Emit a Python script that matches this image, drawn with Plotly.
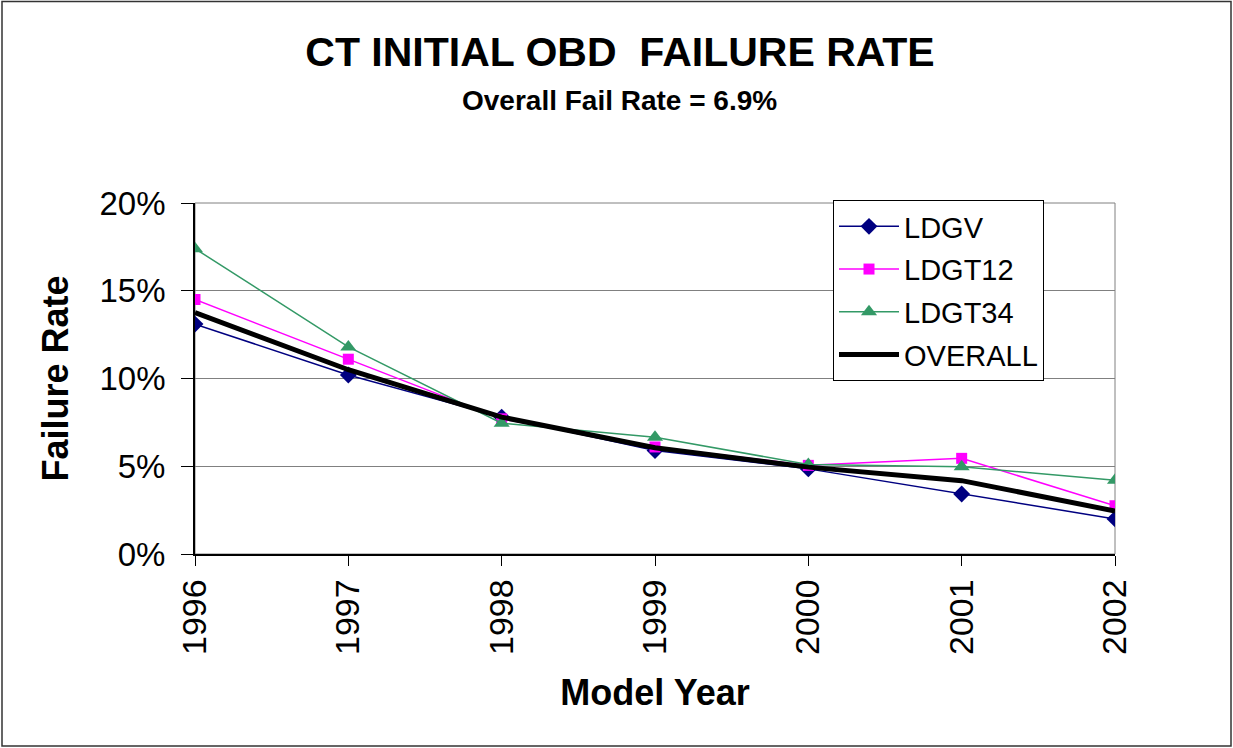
import plotly.graph_objects as go

years = [1996, 1997, 1998, 1999, 2000, 2001, 2002]
ldgv = [13.1, 10.2, 7.8, 5.9, 4.85, 3.42, 2.0]
ldgt12 = [14.5, 11.1, 7.7, 6.1, 5.05, 5.45, 2.75]
ldgt34 = [17.4, 11.8, 7.45, 6.65, 5.1, 4.97, 4.2]
overall = [13.75, 10.5, 7.8, 6.05, 4.95, 4.18, 2.45]
y_ticks = [0, 5, 10, 15, 20]

FONT = "Arial, Liberation Sans, sans-serif"
W, H = 1233, 748
L, R, T, B = 195, 118, 203, 194
PW, PH = W - L - R, H - T - B

fig = go.Figure()
fig.add_trace(go.Scatter(x=years, y=ldgv, name="LDGV", mode="lines+markers",
                         line=dict(color="#000080", width=1.5),
                         marker=dict(symbol="diamond", size=13, color="#000080"),
                         legendgroup="a"))
fig.add_trace(go.Scatter(x=years, y=ldgt12, name="LDGT12", mode="lines+markers",
                         line=dict(color="#FF00FF", width=1.5),
                         marker=dict(symbol="square", size=11, color="#FF00FF"),
                         legendgroup="b"))
fig.add_trace(go.Scatter(x=years, y=ldgt34, name="LDGT34", mode="lines+markers",
                         line=dict(color="#339966", width=1.5),
                         marker=dict(symbol="triangle-up", size=14, color="#339966"),
                         legendgroup="c"))
fig.add_trace(go.Scatter(x=years, y=overall, name="OVERALL", mode="lines",
                         line=dict(color="#000000", width=5),
                         legendgroup="d"))

fig.update_layout(
    width=W, height=H,
    margin=dict(l=L, r=R, t=T, b=B, autoexpand=False),
    paper_bgcolor="white", plot_bgcolor="white",
    font=dict(family=FONT, color="black"),
    title=dict(text="<b>CT INITIAL OBD\u00a0 FAILURE RATE</b>",
               x=0.5 + (620 - (L + PW / 2)) / PW, xref="paper", xanchor="center",
               y=1 - 52 / H, yref="container", yanchor="middle",
               font=dict(size=41, family=FONT, color="black")),
    showlegend=True,
    legend=dict(x=(833 - L) / PW, y=(H - B - 200) / PH, xanchor="left", yanchor="top",
                bgcolor="white", bordercolor="black", borderwidth=1,
                font=dict(size=29, family=FONT, color="black"),
                tracegroupgap=2, itemwidth=60),
    xaxis=dict(range=[1996, 2002], tickmode="array", tickvals=years,
               ticktext=[str(y) for y in years], tickangle=-90,
               showgrid=False, zeroline=False,
               showline=True, linecolor="black", linewidth=1.5,
               ticks="outside", ticklen=10, tickcolor="black",
               tickfont=dict(size=34, family=FONT, color="black"),
               title=dict(text="<b>Model Year</b>", standoff=26,
                          font=dict(size=36, family=FONT, color="black"))),
    yaxis=dict(range=[0, 20], tickmode="array", tickvals=y_ticks,
               ticktext=[f"{v}%\u00a0" for v in y_ticks],
               showgrid=True, gridcolor="#808080", gridwidth=1,
               zeroline=False,
               showline=True, linecolor="black", linewidth=1.5,
               ticks="outside", ticklen=12, tickcolor="black",
               tickfont=dict(size=33, family=FONT, color="black"),
               title=dict(text="<b>Failure Rate</b>", standoff=20,
                          font=dict(size=36, family=FONT, color="black"))),
)

fig.add_annotation(text="<b>Overall Fail Rate = 6.9%</b>", xref="paper", yref="paper",
                   x=0.5 + (619 - (L + PW / 2)) / PW, y=(H - B - 100) / PH,
                   xanchor="center", yanchor="middle", showarrow=False,
                   font=dict(size=28, family=FONT, color="black"))

# plot area frame (gray)
fig.add_shape(type="rect", xref="paper", yref="paper", x0=0, x1=1, y0=0, y1=1,
              line=dict(color="#808080", width=1), layer="below")
# outer chart border
fig.add_shape(type="rect", xref="paper", yref="paper",
              x0=-(L - 2) / PW, x1=1 + (R - 2) / PW,
              y0=-(B - 2) / PH, y1=1 + (T - 1.5) / PH,
              line=dict(color="#333333", width=1.5))

fig.write_html("out.html", config={"displayModeBar": False},
               post_script="document.body.style.margin='0';document.body.style.overflow='hidden';")
